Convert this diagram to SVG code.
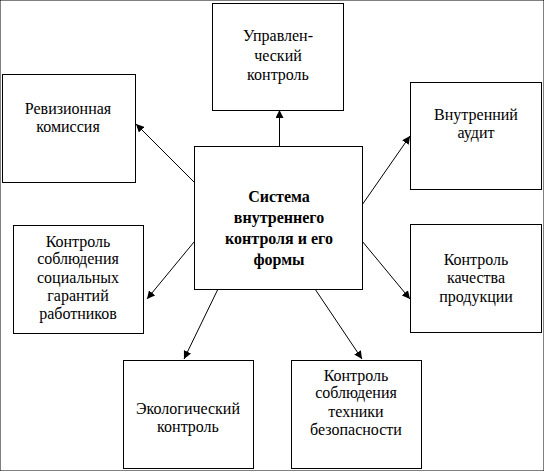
<svg xmlns="http://www.w3.org/2000/svg" width="544" height="471" viewBox="0 0 544 471">
<style>
rect{fill:#fff;stroke:#000;stroke-width:1}
text{font-family:'Liberation Serif','Times New Roman',serif;font-size:16px;text-anchor:middle;fill:#000}
.b{font-weight:bold;font-size:16px}
.c line{stroke:#000;stroke-width:1}
</style>
<defs>
<marker id="a" viewBox="0 0 10 10" refX="10" refY="5" markerWidth="8" markerHeight="8" markerUnits="userSpaceOnUse" orient="auto"><path d="M0,0L10,5L0,10z" fill="#000"/></marker>
</defs>
<rect width="544" height="471" fill="#fff" stroke="none"/>
<g class="c">
<line x1="279.5" y1="146" x2="279.5" y2="110" marker-end="url(#a)"/>
<line x1="194" y1="182" x2="136" y2="124" marker-end="url(#a)"/>
<line x1="194" y1="242" x2="147" y2="299" marker-end="url(#a)"/>
<line x1="362" y1="205" x2="410" y2="136" marker-end="url(#a)"/>
<line x1="362" y1="241" x2="410" y2="299" marker-end="url(#a)"/>
<line x1="218" y1="289" x2="184" y2="359" marker-end="url(#a)"/>
<line x1="315" y1="289" x2="362" y2="359" marker-end="url(#a)"/>
</g>
<g id="center"><rect x="194.5" y="146.5" width="168" height="143"/>
<text class="b" x="279" y="202">Система</text><text class="b" x="279" y="223">внутреннего</text><text class="b" x="279" y="244">контроля и его</text><text class="b" x="279" y="265">формы</text></g>
<g id="top"><rect x="212.5" y="3.5" width="131" height="107"/>
<text x="278" y="41">Управлен-</text><text x="278" y="61">ческий</text><text x="278" y="80">контроль</text></g>
<g id="rev"><rect x="2.5" y="74.5" width="133" height="108"/>
<text x="68" y="114">Ревизионная</text><text x="68" y="132">комиссия</text></g>
<g id="soc"><rect x="13.5" y="225.5" width="130" height="108"/>
<text x="78" y="247">Контроль</text><text x="78" y="264">соблюдения</text><text x="78" y="283">социальных</text><text x="78" y="301">гарантий</text><text x="78" y="319">работников</text></g>
<g id="audit"><rect x="410.5" y="82.5" width="131" height="107"/>
<text x="476" y="120">Внутренний</text><text x="476" y="138">аудит</text></g>
<g id="qual"><rect x="410.5" y="224.5" width="131" height="108"/>
<text x="476" y="265">Контроль</text><text x="476" y="283">качества</text><text x="476" y="302">продукции</text></g>
<g id="eco"><rect x="123.5" y="360.5" width="130" height="108"/>
<text x="188" y="414">Экологический</text><text x="188" y="432">контроль</text></g>
<g id="safe"><rect x="291.5" y="360.5" width="130" height="108"/>
<text x="356" y="381">Контроль</text><text x="356" y="398">соблюдения</text><text x="356" y="417">техники</text><text x="356" y="435">безопасности</text></g>
</svg>
